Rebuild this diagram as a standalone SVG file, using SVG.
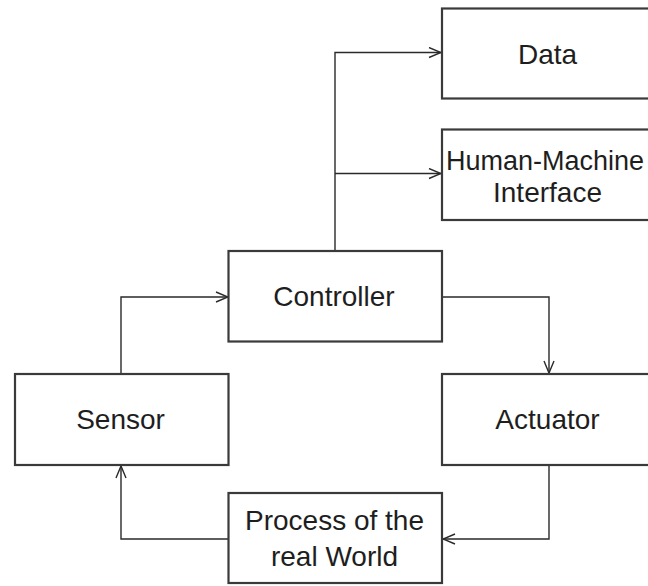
<svg xmlns="http://www.w3.org/2000/svg" width="648" height="586" viewBox="0 0 648 586">
<defs>
<style>
.box{fill:#fff;stroke:#3a3a3a;stroke-width:2.2}
.lbl{font-family:"Liberation Sans",Arial,sans-serif;font-size:28px;fill:#1e1e1e;text-anchor:middle}
.con{fill:none;stroke:#2a2a2a;stroke-width:1.4}
</style>
<marker id="ah" viewBox="0 0 14 12" refX="13" refY="6" markerWidth="14" markerHeight="12" markerUnits="userSpaceOnUse" orient="auto">
<path d="M1,1 L13,6 L1,11" fill="none" stroke="#2a2a2a" stroke-width="1.4"/>
</marker>
</defs>
<rect width="648" height="586" fill="#fff"/>
<g id="connectors">
<path class="con" d="M335,251 V52.5 H441" marker-end="url(#ah)"/>
<path class="con" d="M335,173.5 H441" marker-end="url(#ah)"/>
<path class="con" d="M121,374 V297 H228" marker-end="url(#ah)"/>
<path class="con" d="M442,297 H549 V373" marker-end="url(#ah)"/>
<path class="con" d="M549,465 V539 H443" marker-end="url(#ah)"/>
<path class="con" d="M228,539 H121 V466" marker-end="url(#ah)"/>
</g>
<g id="data">
<rect class="box" x="442" y="8.5" width="220" height="90"/>
<text class="lbl" x="547.5" y="63.5">Data</text>
</g>
<g id="hmi">
<rect class="box" x="442" y="129.5" width="220" height="90.5"/>
<text class="lbl" x="545" y="170" style="font-size:27px">Human-Machine</text>
<text class="lbl" x="547.5" y="202">Interface</text>
</g>
<g id="controller">
<rect class="box" x="228.5" y="251" width="213.5" height="90.5"/>
<text class="lbl" x="334" y="306">Controller</text>
</g>
<g id="sensor">
<rect class="box" x="15" y="374" width="213.5" height="91"/>
<text class="lbl" x="120.5" y="428.5">Sensor</text>
</g>
<g id="actuator">
<rect class="box" x="442" y="374" width="220" height="91"/>
<text class="lbl" x="547.5" y="428.5">Actuator</text>
</g>
<g id="process">
<rect class="box" x="228.5" y="493" width="213.5" height="90"/>
<text class="lbl" x="334.5" y="529.5">Process of the</text>
<text class="lbl" x="334.5" y="565.5">real World</text>
</g>
</svg>
